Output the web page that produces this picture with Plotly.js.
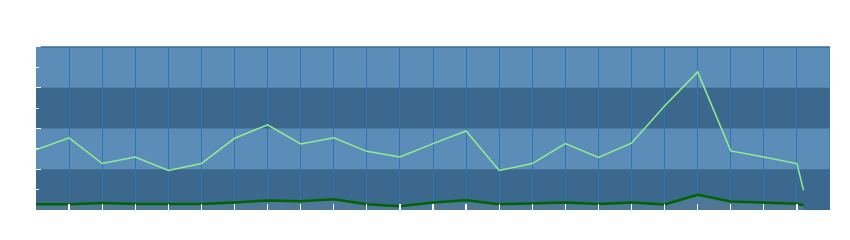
<!DOCTYPE html>
<html>
<head>
<meta charset="utf-8">
<script src="https://cdn.plot.ly/plotly-3.0.1.min.js"></script>
<style>html,body{margin:0;padding:0;background:#fff;}#chart{width:850px;height:240px;}</style>
</head>
<body>
<div id="chart"></div>
<script>
const xPositions = [0,1,2,3,4,5,6,7,8,9,10,11,12,13,14,15,16,17,18,19,20,21,22,23,23.2];
const upperSeries = [1.48,1.77,1.14,1.30,0.97,1.14,1.76,2.09,1.62,1.77,1.44,1.30,1.63,1.94,0.97,1.14,1.63,1.29,1.64,2.55,3.39,1.45,1.30,1.14,0.48];
const lowerSeries = [0.143,0.143,0.172,0.148,0.148,0.148,0.185,0.234,0.217,0.266,0.143,0.094,0.185,0.241,0.143,0.167,0.185,0.148,0.185,0.135,0.374,0.209,0.177,0.153,0.118];
const xTickVals = [1,2,3,4,5,6,7,8,9,10,11,12,13,14,15,16,17,18,19,20,21,22,23];
const bandStarts = [1,3];

const traces = [
  {x: xPositions, y: lowerSeries, type:'scatter', mode:'lines',
   line:{color:'#006400', width:2.5}, fill:'tozeroy', fillcolor:'rgba(255,255,255,0.1)', hoverinfo:'skip'},
  {x: xPositions, y: upperSeries, type:'scatter', mode:'lines',
   line:{color:'#90ee90', width:1.5}, hoverinfo:'skip'}
];

const shapes = bandStarts.map(b => ({type:'rect', xref:'paper', yref:'y', x0:0, x1:1, y0:b, y1:b+1,
  fillcolor:'#5b8db8', line:{width:0}, layer:'below'}));
shapes.push({type:'line', xref:'x', yref:'paper', x0:24, x1:24, y0:0, y1:1, line:{color:'#2b77ae', width:1}, layer:'below'});
shapes.push({type:'line', xref:'paper', yref:'paper', x0:0.006, x1:1, y0:1, y1:1, line:{color:'#3a6c98', width:1.5}, layer:'above'});

const layout = {
  width:850, height:240,
  margin:{l:36, r:20, t:47, b:30, pad:0},
  paper_bgcolor:'#ffffff',
  plot_bgcolor:'#3b688c',
  showlegend:false,
  shapes: shapes,
  xaxis:{range:[0,24], tickmode:'array', tickvals:xTickVals, showticklabels:false,
    ticks:'inside', ticklen:6, tickwidth:1.2, tickcolor:'#ffffff',
    showgrid:true, gridcolor:'#2b77ae', gridwidth:1, zeroline:false, showline:false, fixedrange:true},
  yaxis:{range:[0,4], tickmode:'linear', tick0:0, dtick:1, showticklabels:false,
    ticks:'inside', ticklen:5, tickwidth:1.2, tickcolor:'#ffffff',
    minor:{tickmode:'linear', tick0:0.5, dtick:1, ticks:'inside', ticklen:3, tickcolor:'#ffffff', showgrid:false},
    showgrid:false, zeroline:false, showline:false, fixedrange:true}
};

Plotly.newPlot('chart', traces, layout, {staticPlot:true, displayModeBar:false});
</script>
</body>
</html>
